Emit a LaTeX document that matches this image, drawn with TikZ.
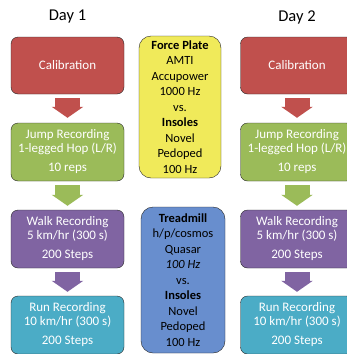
\documentclass[tikz,border=0pt]{standalone}
\usepackage{fontspec}
\setmainfont{Carlito}
\usepackage{tikz}
\usetikzlibrary{arrows.meta,positioning}
\definecolor{calred}{RGB}{192,80,77}
\definecolor{jumpgreen}{RGB}{155,187,89}
\definecolor{walkpurple}{RGB}{128,100,162}
\definecolor{runteal}{RGB}{75,172,198}
\definecolor{plateyellow}{RGB}{240,234,90}
\definecolor{millblue}{RGB}{104,142,206}

\begin{document}
\begin{tikzpicture}[x=1pt,y=-1pt,
  stepbox/.style={draw=black!85,rounded corners=7pt,minimum width=113pt,minimum height=58pt,
                  align=center,text=white,font=\fontsize{13}{13.5}\selectfont},
  device/.style={draw=black!85,rounded corners=12pt,align=center,
                 font=\fontsize{12.5}{15.5}\selectfont},
  daylabel/.style={font=\fontsize{16.5}{18}\selectfont},
  blockarr/.style={line width=25pt,-{Triangle[width=31pt,length=11pt]},shorten >=0pt}
]
  \clip (0,0) rectangle (347,354);
  \fill[white] (0,0) rectangle (347,354);

  % Day columns
  \foreach \d/\x in {1/67.5,2/297}{
    \node[daylabel] (day\d) at (\x,17) {Day \d};
    \node[stepbox,fill=calred,minimum height=57pt] (cal\d) at (\x,65.5) {Calibration};
    \node[stepbox,fill=jumpgreen] (jump\d) at (\x,152) {Jump Recording\\1-legged Hop (L/R)\\[6pt]10 reps};
    \node[stepbox,fill=walkpurple] (walk\d) at (\x,239) {Walk Recording\\5 km/hr (300 s)\\[6pt]200 Steps};
    \node[stepbox,fill=runteal] (run\d) at (\x,325) {Run Recording\\10 km/hr (300 s)\\[6pt]200 Steps};

    % Block arrows
    \draw[blockarr,draw=calred] ([yshift=-4pt]cal\d.south) -- ([yshift=5pt]jump\d.north);
    \draw[blockarr,draw=jumpgreen] ([yshift=-4pt]jump\d.south) -- ([yshift=4pt]walk\d.north);
    \draw[blockarr,draw=walkpurple] ([yshift=-4pt]walk\d.south) -- ([yshift=4pt]run\d.north);
  }

  % Measurement systems
  \node[device,fill=plateyellow,minimum width=82pt,minimum height=142pt] (plate) at (180,107)
    {\textbf{Force Plate}\\AMTI\\Accupower\\1000 Hz\\vs.\\\textbf{Insoles}\\Novel\\Pedoped\\100 Hz};
  \node[device,fill=millblue,minimum width=84pt,minimum height=146pt] (mill) at (183,280)
    {\textbf{Treadmill}\\h/p/cosmos\\Quasar\\\textit{100 Hz}\\vs.\\\textbf{Insoles}\\Novel\\Pedoped\\100 Hz};
\end{tikzpicture}
\end{document}
